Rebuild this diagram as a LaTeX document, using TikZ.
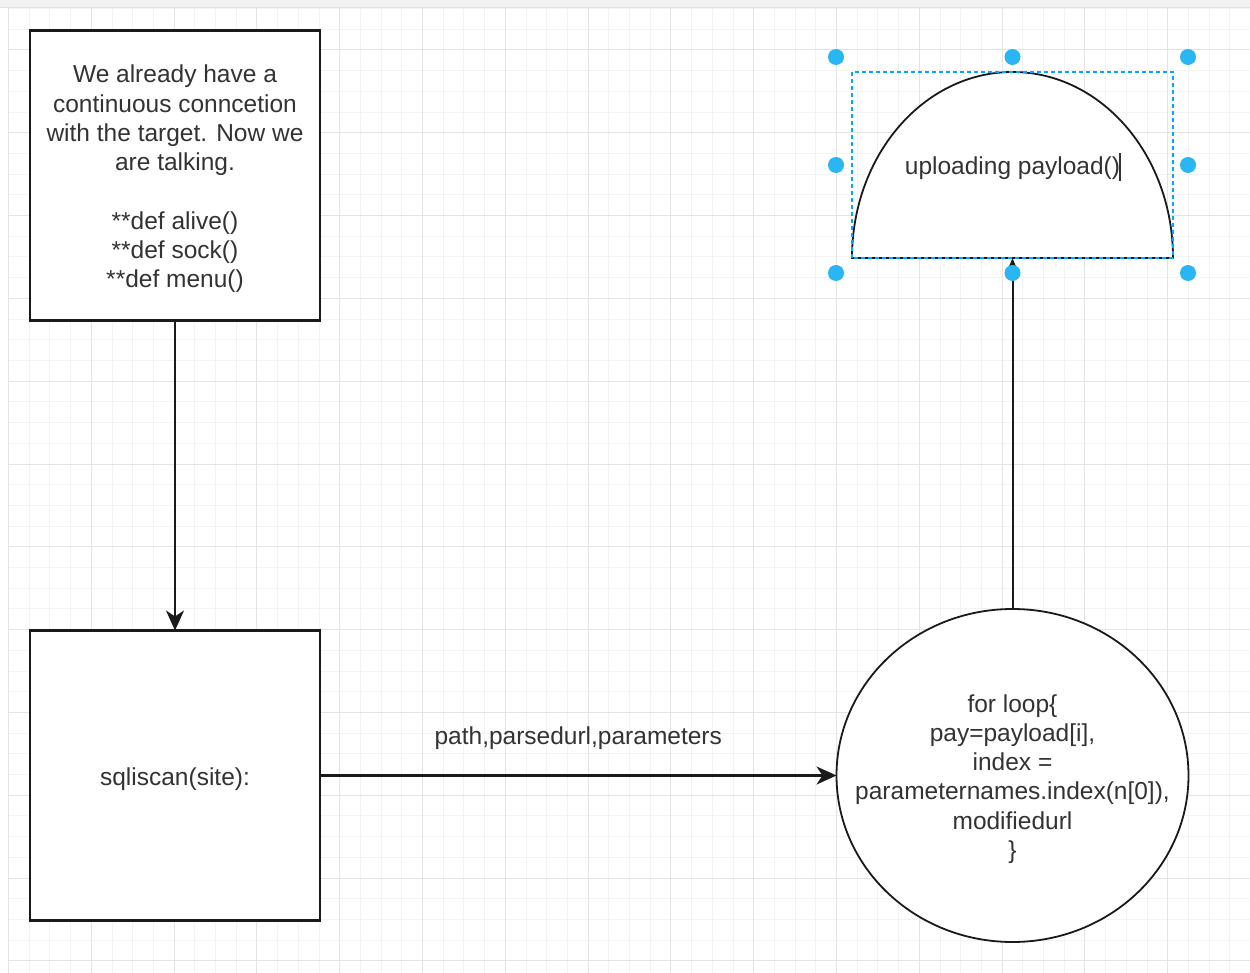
\documentclass[tikz,border=0pt]{standalone}
\usepackage{fontspec}
\setmainfont{Liberation Sans}
\usetikzlibrary{arrows.meta,shapes.geometric}
\definecolor{txt}{HTML}{333333}
\definecolor{gridmin}{HTML}{F3F3F3}
\definecolor{gridmaj}{HTML}{E4E4E4}
\definecolor{handle}{HTML}{29B6F2}
\definecolor{selblue}{HTML}{00A8FF}
\definecolor{band}{HTML}{F1F1F1}
\definecolor{bandline}{HTML}{E0E0E0}
\definecolor{ink}{HTML}{1A1A1A}
\begin{document}
\begin{tikzpicture}[x=1pt,y=-1pt,
  every node/.style={font=\fontsize{24.5}{29.3}\selectfont, text=txt},
  boxnode/.style={draw=ink, line width=2.2pt, fill=white, minimum width=290pt, minimum height=290pt, inner sep=0pt, outer sep=0pt},
  textnode/.style={align=center, inner sep=0pt, yshift=-3.5pt},
  loopshape/.style={ellipse, draw=ink, line width=1.8pt, fill=white, minimum width=352pt, minimum height=333pt, inner sep=0pt, outer sep=0pt},
  domebox/.style={minimum width=321pt, minimum height=186pt, inner sep=0pt, outer sep=0pt},
  domeline/.style={draw=ink, line width=1.8pt, fill=white},
  arr/.style={draw=ink, line width=2.2pt, -{Stealth[length=20pt,width=18pt,inset=6pt]}},
  smallarr/.style={draw=ink, line width=2pt, -{Stealth[length=16pt,width=13pt,inset=4pt]}},
  sel/.style={draw=selblue, line width=1.4pt, dash pattern=on 4pt off 3pt},
  handledot/.style={fill=handle}
]
\useasboundingbox (0,0) rectangle (1250,973);
\fill[white] (0,0) rectangle (1250,973);
% grid
\foreach \n in {0,...,60} {\draw[gridmin, line width=1pt] ({8.5+20.7*\n},7) -- ({8.5+20.7*\n},973);}
\foreach \m in {0,...,46} {\draw[gridmin, line width=1pt] (8.5,{8.6+20.7*\m}) -- (1250,{8.6+20.7*\m});}
\foreach \n in {0,4,...,60} {\draw[gridmaj, line width=1pt] ({8.5+20.7*\n},7) -- ({8.5+20.7*\n},973);}
\foreach \m in {2,6,...,46} {\draw[gridmaj, line width=1pt] (8.5,{8.6+20.7*\m}) -- (1250,{8.6+20.7*\m});}
\fill[band] (0,0) rectangle (1250,7);
\draw[bandline, line width=1pt] (0,7.5) -- (1250,7.5);

% nodes
\node[boxnode] (intro) at (175,175.5) {};
\node[textnode] (introtext) at (intro.center) {We already have a\\continuous conncetion\\with the target. Now we\\are talking.\\[29.3pt]{}**def alive()\\{}**def sock()\\{}**def menu()};
\node[boxnode] (scan) at (175,775.5) {};
\node[textnode] (scantext) at (scan.center) {sqliscan(site):};
\node[loopshape] (loop) at (1012.5,775.5) {};
\node[textnode] (looptext) at (loop.center) {for loop\{\\pay=payload[i],\\index =\\parameternames.index(n[0]),\\modifiedurl\\\}};

% dome
\coordinate (domeSW) at (852,258);
\draw[domeline] (domeSW) arc[start angle=180, end angle=0, x radius=160.5pt, y radius=186pt] -- cycle;
\node[domebox] (dome) at (1012.5,165) {};
\node[textnode] (dometext) at (dome.center) {uploading payload()};
\draw[txt, line width=1.2pt] (1120,153) -- (1120,181);

% connectors
\draw[arr] (intro.south) -- (scan.north);
\draw[arr] (scan.east) -- node[midway, yshift=37pt] {path,parsedurl,parameters} (loop.west);
\draw[smallarr] (loop.north) -- (dome.south);

% selection
\draw[sel] (dome.south west) rectangle (dome.north east);
\foreach \p in {(836,57),(1012.5,57),(1188,57),(836,165),(1188,165),(836,273),(1012.5,273),(1188,273)} {\fill[handledot] \p circle (8pt);}
\end{tikzpicture}
\end{document}
